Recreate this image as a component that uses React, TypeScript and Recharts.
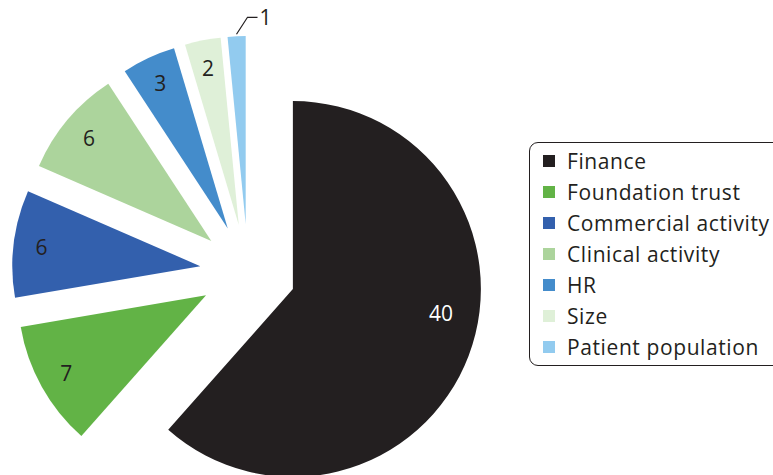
import { PieChart, Pie, Cell, Sector, Legend } from 'recharts'

const categories = [
  'Finance',
  'Foundation trust',
  'Commercial activity',
  'Clinical activity',
  'HR',
  'Size',
  'Patient population',
]
const counts = [40, 7, 6, 6, 3, 2, 1]
const colors = ['#231f20', '#62b346', '#3360ad', '#acd49c', '#448ccb', '#dff0d8', '#92cbef']

const data = categories.map((name, i) => ({ name, value: counts[i] }))

const RADIAN = Math.PI / 180
const EXPLODE = 48
const FONT = '"Open Sans", "Noto Sans", sans-serif'

function shift(cx: number, cy: number, r: number, angle: number) {
  return {
    x: cx + r * Math.cos(-angle * RADIAN),
    y: cy + r * Math.sin(-angle * RADIAN),
  }
}

// every slice pushed out along its own mid angle
function ExplodedSector(props: any) {
  const { cx, cy, midAngle } = props
  const p = shift(cx, cy, EXPLODE, midAngle)
  return <Sector {...props} cx={p.x} cy={p.y} stroke="none" />
}

function SliceLabel(props: any) {
  const { cx, cy, midAngle, outerRadius, index, value } = props
  const c = shift(cx, cy, EXPLODE, midAngle)
  if (index === categories.length - 1) {
    // tiny slice: label sits outside with a leader line
    const s = shift(c.x, c.y, outerRadius + 2, midAngle)
    const ex = s.x + 11
    const ey = s.y - 17
    return (
      <g>
        <polyline
          points={`${s.x},${s.y} ${ex},${ey} ${ex + 10},${ey}`}
          fill="none"
          stroke="#231f20"
          strokeWidth={1.2}
        />
        <text x={ex + 12} y={ey} fill="#231f20" fontSize={21} fontFamily={FONT} dominantBaseline="central">
          {value}
        </text>
      </g>
    )
  }
  const angle = index === 0 ? midAngle + 11.5 : midAngle
  const r = index === 0 ? 150 : 160
  const p = shift(c.x, c.y, r, angle)
  return (
    <text
      x={p.x}
      y={p.y}
      fill={index === 0 ? '#ffffff' : '#231f20'}
      fontSize={21}
      fontFamily={FONT}
      textAnchor="middle"
      dominantBaseline="central"
    >
      {value}
    </text>
  )
}

function LegendBox() {
  return (
    <div
      style={{
        border: '1.5px solid #231f20',
        borderRadius: 9,
        padding: '2px 0 3px 13px',
        width: 250,
        background: '#fff',
        fontFamily: FONT,
        fontSize: 21,
        letterSpacing: 0.6,
        color: '#231f20',
      }}
    >
      {categories.map((name, i) => (
        <div key={name} style={{ display: 'flex', alignItems: 'center', height: 31, whiteSpace: 'nowrap' }}>
          <span style={{ width: 12, height: 12, background: colors[i], marginRight: 12, flex: 'none' }} />
          <span>{name}</span>
        </div>
      ))}
    </div>
  )
}

export default function App() {
  return (
    <div style={{ position: 'absolute', left: 0, top: 0, width: 773, height: 475, overflow: 'hidden', background: '#fff' }}>
      <PieChart width={773} height={475} margin={{ top: 0, right: 0, bottom: 0, left: 0 }}>
        <Pie
          data={data}
          dataKey="value"
          nameKey="name"
          cx={248}
          cy={272}
          outerRadius={188}
          startAngle={90}
          endAngle={-270}
          stroke="none"
          labelLine={false}
          label={SliceLabel}
          shape={ExplodedSector}
          activeShape={ExplodedSector}
          isAnimationActive={false}
        >
          {data.map((d, i) => (
            <Cell key={d.name} fill={colors[i]} />
          ))}
        </Pie>
        <Legend content={LegendBox} wrapperStyle={{ left: 529, top: 142, width: 260 }} />
      </PieChart>
    </div>
  )
}
